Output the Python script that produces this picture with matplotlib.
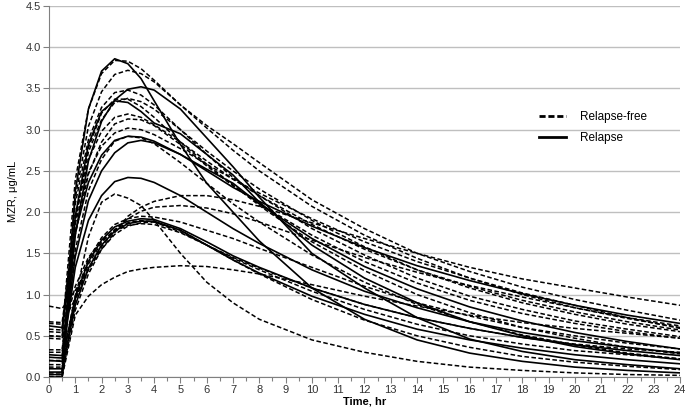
import matplotlib
matplotlib.use("Agg")
import matplotlib.pyplot as plt
from matplotlib.lines import Line2D
from matplotlib.ticker import MultipleLocator

plt.rcParams["font.family"] = ["Liberation Sans", "DejaVu Sans"]

# sampling times (hr)
TIME = [0, 0.5, 1, 1.5, 2, 2.5, 3, 3.5, 4, 5, 6, 7, 8, 10, 12, 14, 16, 18, 20, 22, 24]

# Relapse patients (solid), MZR in ug/mL at TIME
relapse_a = [0.03, 0.03, 2.25, 3.25, 3.71, 3.86, 3.80, 3.62, 3.35, 2.82, 2.35, 2.00, 1.65, 1.08, 0.70, 0.45, 0.29, 0.19, 0.12, 0.08, 0.05]
relapse_b = [0.06, 0.06, 1.72, 2.62, 3.10, 3.36, 3.49, 3.52, 3.48, 3.25, 2.90, 2.55, 2.18, 1.50, 1.08, 0.72, 0.46, 0.31, 0.21, 0.15, 0.10]
relapse_c = [0.62, 0.60, 1.76, 2.36, 2.69, 2.87, 2.92, 2.91, 2.86, 2.70, 2.50, 2.30, 2.13, 1.83, 1.57, 1.35, 1.17, 1.01, 0.87, 0.75, 0.65]
relapse_d = [0.27, 0.26, 1.46, 2.14, 2.50, 2.72, 2.84, 2.87, 2.84, 2.70, 2.52, 2.35, 2.10, 1.68, 1.34, 1.07, 0.85, 0.68, 0.54, 0.43, 0.34]
relapse_e = [0.24, 0.23, 1.33, 1.90, 2.20, 2.37, 2.42, 2.41, 2.36, 2.20, 2.00, 1.80, 1.62, 1.30, 1.04, 0.84, 0.67, 0.54, 0.44, 0.36, 0.29]
relapse_f = [0.20, 0.19, 0.97, 1.40, 1.66, 1.82, 1.89, 1.92, 1.91, 1.80, 1.64, 1.47, 1.33, 1.08, 0.88, 0.72, 0.59, 0.48, 0.39, 0.32, 0.26]
relapse_g = [0.10, 0.10, 0.87, 1.32, 1.60, 1.77, 1.86, 1.89, 1.89, 1.78, 1.60, 1.42, 1.26, 0.98, 0.76, 0.58, 0.45, 0.35, 0.27, 0.21, 0.16]
relapse_h = [0.00, 0.00, 1.95, 2.82, 3.22, 3.35, 3.33, 3.22, 3.08, 2.95, 2.70, 2.45, 2.12, 1.60, 1.20, 0.90, 0.67, 0.50, 0.37, 0.28, 0.21]

# Relapse-free patients (dashed)
free_01 = [0.55, 0.54, 2.39, 3.25, 3.68, 3.84, 3.83, 3.74, 3.60, 3.30, 3.05, 2.83, 2.60, 2.15, 1.80, 1.50, 1.28, 1.09, 0.94, 0.81, 0.69]
free_02 = [0.50, 0.49, 2.17, 3.04, 3.46, 3.67, 3.72, 3.68, 3.58, 3.30, 3.02, 2.75, 2.50, 2.07, 1.72, 1.44, 1.20, 1.00, 0.84, 0.71, 0.60]
free_03 = [0.47, 0.46, 2.10, 2.88, 3.27, 3.45, 3.48, 3.42, 3.30, 3.00, 2.70, 2.42, 2.20, 1.80, 1.48, 1.20, 0.98, 0.82, 0.68, 0.58, 0.49]
free_04 = [0.05, 0.05, 1.91, 2.78, 3.20, 3.37, 3.37, 3.28, 3.15, 2.85, 2.58, 2.33, 2.08, 1.64, 1.29, 1.00, 0.78, 0.60, 0.47, 0.36, 0.28]
free_05 = [0.30, 0.30, 1.90, 2.73, 3.12, 3.33, 3.38, 3.34, 3.25, 3.00, 2.74, 2.50, 2.28, 1.90, 1.58, 1.30, 1.08, 0.90, 0.76, 0.64, 0.55]
free_06 = [0.58, 0.57, 1.93, 2.64, 2.98, 3.15, 3.19, 3.15, 3.06, 2.85, 2.62, 2.40, 2.20, 1.85, 1.55, 1.30, 1.10, 0.93, 0.79, 0.67, 0.57]
free_07 = [0.33, 0.33, 1.73, 2.46, 2.85, 3.07, 3.13, 3.12, 3.05, 2.82, 2.56, 2.32, 2.10, 1.72, 1.40, 1.14, 0.93, 0.77, 0.65, 0.55, 0.47]
free_08 = [0.15, 0.15, 1.54, 2.26, 2.64, 2.86, 2.92, 2.90, 2.83, 2.60, 2.35, 2.10, 1.88, 1.48, 1.15, 0.88, 0.67, 0.51, 0.39, 0.29, 0.22]
free_09 = [0.00, 0.00, 0.95, 1.70, 2.12, 2.22, 2.17, 2.08, 1.90, 1.50, 1.15, 0.90, 0.70, 0.45, 0.30, 0.19, 0.12, 0.08, 0.05, 0.03, 0.02]
free_10 = [0.86, 0.83, 1.05, 1.30, 1.55, 1.75, 1.95, 2.06, 2.13, 2.20, 2.20, 2.15, 2.07, 1.87, 1.68, 1.50, 1.33, 1.19, 1.08, 0.97, 0.87]
free_11 = [0.65, 0.64, 0.95, 1.30, 1.58, 1.78, 1.92, 2.01, 2.06, 2.08, 2.05, 1.98, 1.88, 1.66, 1.45, 1.27, 1.11, 0.97, 0.84, 0.72, 0.62]
free_12 = [0.20, 0.20, 0.99, 1.43, 1.69, 1.85, 1.92, 1.95, 1.94, 1.88, 1.78, 1.68, 1.56, 1.33, 1.10, 0.90, 0.74, 0.60, 0.50, 0.41, 0.34]
free_13 = [0.12, 0.12, 0.92, 1.37, 1.63, 1.79, 1.87, 1.90, 1.88, 1.76, 1.60, 1.44, 1.30, 1.04, 0.82, 0.64, 0.50, 0.40, 0.32, 0.27, 0.22]
free_14 = [0.03, 0.03, 0.81, 1.25, 1.55, 1.73, 1.83, 1.87, 1.88, 1.78, 1.60, 1.42, 1.25, 0.94, 0.69, 0.50, 0.36, 0.25, 0.18, 0.13, 0.09]
free_15 = [0.00, 0.00, 0.75, 0.98, 1.12, 1.21, 1.28, 1.31, 1.33, 1.35, 1.34, 1.30, 1.25, 1.12, 0.98, 0.86, 0.75, 0.66, 0.59, 0.53, 0.47]
free_16 = [0.50, 0.49, 1.10, 1.45, 1.65, 1.77, 1.84, 1.86, 1.85, 1.75, 1.60, 1.45, 1.32, 1.08, 0.88, 0.72, 0.59, 0.48, 0.40, 0.34, 0.30]
free_17 = [0.67, 0.66, 1.86, 2.48, 2.80, 2.96, 3.02, 3.00, 2.94, 2.77, 2.58, 2.40, 2.23, 1.92, 1.64, 1.40, 1.20, 1.02, 0.87, 0.72, 0.59]

RELAPSE = [relapse_a, relapse_b, relapse_c, relapse_d, relapse_e, relapse_f, relapse_g, relapse_h]
RELAPSE_FREE = [free_01, free_02, free_03, free_04, free_05, free_06, free_07, free_08, free_09,
                free_10, free_11, free_12, free_13, free_14, free_15, free_16, free_17]

fig = plt.figure(figsize=(6.85, 4.11), dpi=100)
ax = fig.add_axes([0.0715, 0.0827, 0.9212, 0.9027])

for conc in RELAPSE_FREE:
    ax.plot(TIME, conc, color="black", lw=1.1, linestyle=(0, (3, 1.6)), zorder=3)
for conc in RELAPSE:
    ax.plot(TIME, conc, color="black", lw=1.2, linestyle="-", zorder=3)

ax.set_xlim(0, 24)
ax.set_ylim(0, 4.5)
ax.xaxis.set_major_locator(MultipleLocator(1))
ax.xaxis.set_minor_locator(MultipleLocator(0.5))
ax.yaxis.set_major_locator(MultipleLocator(0.5))
ax.yaxis.set_major_formatter(plt.FormatStrFormatter("%.1f"))
ax.grid(axis="y", color="#bfbfbf", lw=1.0, zorder=0)
ax.set_axisbelow(True)

for side in ("top", "right"):
    ax.spines[side].set_visible(False)
ax.spines["left"].set_color("#808080")
ax.spines["bottom"].set_color("#808080")
ax.tick_params(axis="both", which="major", labelsize=8, labelcolor="#333333",
               color="#808080", length=4, width=0.8, pad=2)
ax.tick_params(axis="x", which="minor", color="#808080", length=3, width=0.8)

ax.set_xlabel("Time, hr", fontsize=8, fontweight="bold", labelpad=1)
ax.set_ylabel("MZR, \u03bcg/mL", fontsize=8, labelpad=5)

handles = [
    Line2D([], [], color="black", lw=2.0, linestyle=(0, (2.2, 1.0))),
    Line2D([], [], color="black", lw=2.0, linestyle="-"),
]
ax.legend(handles, ["Relapse-free", "Relapse"], loc="upper left",
          bbox_to_anchor=(0.76, 0.745), frameon=False, fontsize=8.5,
          handlelength=2.3, handletextpad=1.2, labelspacing=0.75)

fig.savefig("out.png", dpi=100)
